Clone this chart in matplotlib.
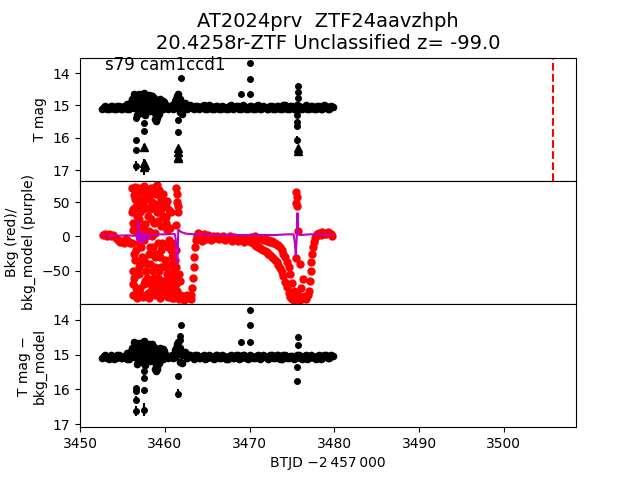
import numpy as np
import matplotlib
matplotlib.use("Agg")
import matplotlib.pyplot as plt

# ---- photometry (T mag), quiet baseline (two interleaved cadences) ----
base_t = [3452.6, 3453.0, 3453.4, 3453.8, 3454.2, 3454.6, 3455.0, 3455.4, 3455.8, 3456.2,
          3456.6, 3457.0, 3457.4, 3457.8, 3458.2, 3458.6, 3459.0, 3459.4, 3459.8, 3460.2,
          3460.6, 3461.0, 3461.4, 3461.8, 3462.2, 3462.6, 3463.0, 3463.4, 3463.8, 3464.2,
          3464.6, 3465.0, 3465.4, 3465.8, 3466.2, 3466.6, 3467.0, 3467.4, 3467.8, 3468.2,
          3468.6, 3469.0, 3469.4, 3469.8, 3470.2, 3470.6, 3471.0, 3471.4, 3471.8, 3472.2,
          3472.6, 3473.0, 3473.4, 3473.8, 3474.2, 3474.6, 3475.0, 3475.4, 3475.8, 3476.2,
          3476.6, 3477.0, 3477.4, 3477.8, 3478.2, 3478.6, 3479.0, 3479.4, 3479.8]
base_mag = [15.10, 15.02, 15.12, 15.03, 15.11, 15.01, 15.10, 15.04, 15.12, 15.00,
            15.02, 15.12, 14.98, 15.14, 15.00, 15.10, 14.96, 15.08, 15.12, 15.00,
            15.04, 15.10, 14.95, 14.98, 15.02, 15.10, 15.00, 15.12, 15.02, 15.09,
            15.00, 15.11, 15.03, 15.12, 15.01, 15.10, 15.04, 15.12, 15.00, 15.09,
            15.02, 15.11, 15.01, 15.12, 15.03, 15.10, 15.00, 15.11, 15.04, 15.12,
            15.01, 15.10, 15.02, 15.12, 15.00, 15.11, 15.03, 15.10, 15.02, 15.12,
            15.00, 15.11, 15.03, 15.12, 15.01, 15.10, 15.02, 15.11, 15.04]
base2_t = [3452.8, 3453.2, 3453.6, 3454.0, 3454.4, 3454.8, 3455.2, 3455.6, 3456.0, 3456.4,
           3456.8, 3457.2, 3457.6, 3458.0, 3458.4, 3458.8, 3459.2, 3459.6, 3460.0, 3460.4,
           3460.8, 3461.2, 3461.6, 3462.0, 3462.4, 3462.8, 3463.2, 3463.6, 3464.0, 3464.4,
           3464.8, 3465.2, 3465.6, 3466.0, 3466.4, 3466.8, 3467.2, 3467.6, 3468.0, 3468.4,
           3468.8, 3469.2, 3469.6, 3470.0, 3470.4, 3470.8, 3471.2, 3471.6, 3472.0, 3472.4,
           3472.8, 3473.2, 3473.6, 3474.0, 3474.4, 3474.8, 3475.2, 3475.6, 3476.0, 3476.4,
           3476.8, 3477.2, 3477.6, 3478.0, 3478.4, 3478.8, 3479.2, 3479.6]
base2_mag = [15.04, 15.11, 15.01, 15.12, 15.02, 15.10, 15.03, 15.12, 15.01, 15.08,
             15.14, 14.96, 15.10, 14.92, 15.12, 15.02, 15.15, 14.98, 15.06, 15.10,
             15.00, 15.08, 14.94, 15.00, 14.92, 15.02, 15.08, 15.01, 15.11, 15.03,
             15.12, 15.00, 15.10, 15.02, 15.11, 15.01, 15.12, 15.03, 15.10, 15.01,
             15.12, 15.00, 15.10, 15.02, 15.11, 15.03, 15.12, 15.01, 15.10, 15.02,
             15.11, 15.02, 15.12, 15.00, 15.10, 15.03, 15.12, 15.00, 15.10, 15.04,
             15.12, 15.01, 15.11, 15.03, 15.12, 15.00, 15.10, 15.02]
base_err = 0.04

# excursions around the band (both mag panels)
exc_t = [3455.6, 3455.9, 3456.1, 3456.3, 3456.4, 3456.5, 3456.6, 3456.75, 3456.8, 3456.9,
         3457.05, 3457.1, 3457.2, 3457.3, 3457.4, 3457.5, 3457.6, 3457.7, 3457.85, 3457.95,
         3458.05, 3458.15, 3458.25, 3458.35, 3458.45, 3458.55, 3458.65, 3458.75, 3458.85, 3458.95,
         3459.0, 3459.1, 3459.2, 3459.3, 3459.45, 3459.55, 3459.65, 3459.75, 3459.95, 3461.2,
         3461.45, 3461.6, 3461.75, 3461.85, 3462.0]
exc_mag = [14.95, 14.92, 14.80, 14.86, 14.64, 14.70, 14.75, 15.28, 14.90, 14.66,
           15.22, 14.68, 14.72, 14.85, 14.66, 14.70, 14.62, 15.30, 14.70, 14.92,
           14.80, 14.68, 15.18, 14.95, 14.72, 14.70, 14.88, 14.85, 15.42, 15.30,
           15.48, 15.40, 14.86, 15.25, 14.80, 14.90, 15.12, 14.85, 14.95, 14.86,
           14.70, 14.64, 14.80, 15.20, 15.25]
exc2_t = [3456.2, 3456.45, 3456.7, 3456.95, 3457.15, 3457.35, 3457.55, 3457.75, 3457.9, 3458.1,
          3458.3, 3458.5, 3458.7, 3458.9, 3459.05, 3459.25, 3459.5, 3459.7, 3459.9, 3461.3,
          3461.55, 3461.7]
exc2_mag = [14.90, 14.78, 14.82, 14.74, 14.80, 14.76, 14.74, 14.82, 14.78, 14.86,
            14.76, 14.84, 14.78, 15.22, 15.36, 15.18, 14.86, 14.92, 14.88, 14.80,
            14.76, 14.90]

# top panel: outliers with error bars
top_t = [3456.6, 3456.6, 3456.65, 3456.65, 3457.55, 3457.55, 3461.5, 3461.5, 3461.9, 3469.0,
         3470.05, 3470.05, 3470.05, 3475.75, 3475.75, 3475.7, 3475.6, 3475.6, 3475.65, 3475.65]
top_mag = [15.38, 16.08, 16.38, 16.88, 15.54, 15.80, 15.46, 15.82, 14.15, 14.66,
           13.70, 14.17, 14.66, 14.41, 14.59, 14.77, 15.31, 15.52, 15.62, 16.08]
top_err = [0.05, 0.08, 0.10, 0.15, 0.06, 0.08, 0.05, 0.08, 0.02, 0.02,
           0.02, 0.02, 0.02, 0.02, 0.03, 0.03, 0.05, 0.06, 0.07, 0.12]
# top panel: triangle points
tri_t = [3457.6, 3457.6, 3457.62, 3457.58, 3461.5, 3461.55, 3461.5, 3461.55, 3475.7, 3475.7]
tri_mag = [16.28, 16.78, 16.85, 16.90, 16.33, 16.45, 16.58, 16.62, 16.33, 16.42]
tri_err = [0.10, 0.12, 0.15, 0.25, 0.08, 0.08, 0.08, 0.08, 0.10, 0.10]

# bottom panel: outliers (T mag - bkg_model)
bot_t = [3456.6, 3456.6, 3456.65, 3456.65, 3457.55, 3457.55, 3457.55, 3457.6, 3461.5, 3461.55,
         3461.9, 3461.75, 3461.8, 3469.0, 3470.05, 3470.05, 3470.05, 3475.75, 3475.75, 3475.6,
         3475.6]
bot_mag = [15.95, 16.05, 16.30, 16.62, 15.46, 15.66, 16.02, 16.58, 15.62, 16.12,
           14.14, 14.45, 14.57, 14.63, 13.70, 14.14, 14.63, 14.48, 14.71, 15.35,
           15.77]
bot_err = [0.06, 0.08, 0.10, 0.15, 0.05, 0.08, 0.10, 0.20, 0.06, 0.12,
           0.02, 0.03, 0.03, 0.02, 0.02, 0.02, 0.02, 0.02, 0.03, 0.05,
           0.08]

# ---- background flux (red) ----
bkg_t = [3452.7, 3452.95, 3453.2, 3453.45, 3453.7, 3453.95, 3454.2, 3454.45, 3454.7, 3454.95,
         3455.2, 3455.45, 3455.7, 3455.95]
bkg_v = [2, 4, 1, 3, 0, 2, -2, -5, -8, -6, -9, -4, -7, -10]

chaos_t = [3456.1, 3456.2, 3456.3, 3456.4, 3456.5, 3456.6, 3456.7, 3456.8, 3456.9, 3457.0,
           3457.1, 3457.2, 3457.3, 3457.4, 3457.5, 3457.6, 3457.7, 3457.8, 3457.9, 3458.0,
           3458.1, 3458.2, 3458.3, 3458.4, 3458.5, 3458.6, 3458.7, 3458.8, 3458.9, 3459.0,
           3459.1, 3459.2, 3459.3, 3459.4, 3459.5, 3459.6, 3459.7, 3459.8, 3459.9, 3460.0,
           3460.1, 3460.2, 3460.3, 3460.4, 3460.5, 3460.6, 3460.7, 3460.8, 3460.9, 3461.0,
           3461.1, 3461.2, 3461.3]
chaos_a = [70, -85, 40, -60, 72, -20, -90, 55, -45, 25,
           -75, 65, -30, -88, 45, 10, -65, 68, -40, 30,
           -90, 60, -15, -70, 50, -50, 20, -85, 72, -25,
           75, -60, 35, -90, 15, -45, 55, -80, 28, -35,
           45, -70, 10, -88, 38, -55, -20, -90, -40, -75,
           -60, -85, -45]
chaos_b = [-10, 20, -70, 60, -35, 45, 5, -80, 70, -55,
           35, -15, 52, 0, -70, 74, 18, -50, 42, -82,
           8, -40, 66, 25, -75, 48, -60, 5, -30, 62,
           -80, 22, -50, 48, -72, 40, -10, 30, -65, 50,
           -85, 20, -55, -15, -80, 12, -70, -30, -88, -50,
           -90, -35, -70]
chaos_c = [35, -50, 10, -25, 55, -75, 30, 15, -10, 68,
           -40, 50, -85, 40, -5, -35, 60, 0, -60, 55,
           -25, 40, -85, 70, 0, -15, 65, -45, 45, -70,
           35, -10, 68, -30, 55, -20, -65, 62, 48, -80,
           28, -45, 52, -60, -5, -85, 35, -60, -10, -25,
           -40, -70, -20]

spike_t = [3461.35, 3461.4, 3461.45, 3461.5, 3461.55, 3461.35, 3461.7, 3461.8]
spike_v = [70, 62, 50, 45, 36, 16, -55, -65]

low_t = [3461.4, 3461.55, 3461.7, 3461.85, 3462.0, 3462.15, 3462.3, 3462.45, 3462.6, 3462.75,
         3462.9, 3463.05]
low_v = [-80, -88, -91, -85, -90, -87, -92, -89, -86, -90, -88, -91]

rise1_t = [3463.1, 3463.2, 3463.3, 3463.4, 3463.5, 3463.6, 3463.7, 3463.8]
rise1_v = [-85, -75, -60, -45, -30, -15, -5, 0]

flat_t = [3463.9, 3464.15, 3464.4, 3464.65, 3464.9, 3465.15, 3465.4, 3465.65, 3465.9, 3466.15,
          3466.4, 3466.65, 3466.9, 3467.15, 3467.4, 3467.65, 3467.9, 3468.15, 3468.4, 3468.65,
          3468.9, 3469.15, 3469.4, 3469.65, 3469.9]
flat_v = [5, 2, -6, 3, -4, 2, -5, 0, -2, 1,
          -4, -1, 0, -5, -2, 0, -6, -1, -3, -7,
          -2, -5, -8, -3, -6]

dec_t = [3470.2, 3470.4, 3470.6, 3470.8, 3471.0, 3471.2, 3471.4, 3471.6, 3471.8, 3472.0,
         3472.2, 3472.4, 3472.6, 3472.8, 3473.0, 3473.2, 3473.4, 3473.6, 3473.8, 3474.0,
         3474.2, 3474.4, 3474.6, 3474.8, 3475.0, 3475.2]
dec_hi = [-1, -2, 0, -3, -2, -4, -3, -5, -4, -6,
          -5, -8, -7, -10, -9, -13, -12, -16, -20, -25,
          -30, -38, -45, -55, -68, -80]
dec_lo = [-8, -10, -12, -14, -15, -17, -18, -20, -22, -23,
          -25, -27, -30, -32, -35, -38, -42, -46, -52, -58,
          -66, -74, -82, -88, -91, -92]

pit_t = [3475.3, 3475.5, 3475.7, 3475.9, 3476.1, 3476.3, 3476.5, 3476.7, 3476.9]
pit_v = [-88, -91, -86, -92, -89, -90, -87, -91, -85]

iso_t = [3475.5, 3475.55, 3475.45, 3475.6, 3475.7, 3475.5, 3475.9, 3476.3, 3476.1]
iso_v = [65, 58, 48, 44, 8, -31, -40, -62, -75]

rise2_t = [3477.0, 3477.1, 3477.2, 3477.3, 3477.4, 3477.5, 3477.6, 3477.7, 3477.8, 3477.9]
rise2_v = [-80, -65, -50, -38, -25, -15, -8, -3, 0, 2]

end_t = [3478.0, 3478.2, 3478.4, 3478.6, 3478.8, 3479.0, 3479.2, 3479.4, 3479.6, 3479.7]
end_v = [3, 5, 2, 6, 3, 4, 7, 5, 3, 1]

# ---- background model (purple) ----
model_t = [3452.7, 3453.5, 3454.5, 3455.5, 3456.3, 3456.7, 3456.8, 3456.9, 3457.0, 3457.1,
           3457.2, 3457.3, 3457.4, 3457.5, 3457.6, 3457.7, 3457.8, 3458.0, 3458.2, 3458.4,
           3458.8, 3459.5, 3460.3, 3460.9, 3461.2, 3461.3, 3461.4, 3461.5, 3461.6, 3461.75,
           3462.0, 3462.5, 3463.5, 3465.0, 3468.0, 3471.0, 3473.0, 3474.5, 3475.2, 3475.35,
           3475.45, 3475.55, 3475.65, 3475.75, 3476.0, 3477.0, 3479.7]
model_v = [1, 0.5, 1, 1.5, 1, 1, -6, 21, -8, 6,
           -7, 3, -9, 5, -4, 4, -6, 3, -3, 2,
           2, 3, 3, 4, 3, -5, -38, -30, 10, 8,
           6, 4, 3, 2.5, 2, 2, 2, 3, 3, -10,
           -28, -5, 34, 4, 2, 3, 2.5]

vline_t = 3505.8

fig, axes = plt.subplots(3, 1, sharex=True, figsize=(6.4, 4.8))
fig.subplots_adjust(hspace=0)
ax1, ax2, ax3 = axes

# top: T mag
for tt, mm in [(base_t, base_mag), (base2_t, base2_mag), (exc_t, exc_mag), (exc2_t, exc2_mag)]:
    ax1.errorbar(tt, mm, yerr=base_err, fmt='o', color='k', ms=4.5)
ax1.errorbar(top_t, top_mag, yerr=top_err, fmt='o', color='k', ms=4)
ax1.errorbar(tri_t, tri_mag, yerr=tri_err, fmt='^', color='k', ms=6)
ax1.axvline(vline_t, color='r', ls='--')
ax1.set_ylim(17.33, 13.52)
ax1.set_ylabel('T mag')
ax1.set_title('AT2024prv  ZTF24aavzhph\n20.4258r-ZTF Unclassified z= -99.0', fontsize=14)
ax1.text(0.05, 0.9, 's79 cam1ccd1', transform=ax1.transAxes, fontsize=12)

# middle: background and model
rkw = dict(color='r', marker='o', ls='none', ms=5)
for tt, vv in [(bkg_t, bkg_v), (chaos_t, chaos_a), (chaos_t, chaos_b), (chaos_t, chaos_c),
               (spike_t, spike_v), (low_t, low_v), (rise1_t, rise1_v), (flat_t, flat_v),
               (dec_t, dec_hi), (dec_t, dec_lo), (pit_t, pit_v), (iso_t, iso_v),
               (rise2_t, rise2_v), (end_t, end_v)]:
    ax2.plot(tt, vv, **rkw)
ax2.plot(model_t, model_v, color='m', lw=1.5)
ax2.set_ylim(-98.5, 81)
ax2.set_ylabel('Bkg (red)/\nbkg_model (purple)')

# bottom: T mag - bkg_model
for tt, mm in [(base_t, base_mag), (base2_t, base2_mag), (exc_t, exc_mag), (exc2_t, exc2_mag)]:
    ax3.errorbar(tt, mm, yerr=base_err, fmt='o', color='k', ms=4.5)
ax3.errorbar(bot_t, bot_mag, yerr=bot_err, fmt='o', color='k', ms=4)
ax3.set_ylim(17.09, 13.54)
ax3.set_ylabel('T mag \u2212\nbkg_model')
ax3.set_xlim(3450, 3508.5)
ax3.set_xlabel('BTJD \u22122\u2009457\u2009000')

plt.savefig('out.png', dpi=100)
